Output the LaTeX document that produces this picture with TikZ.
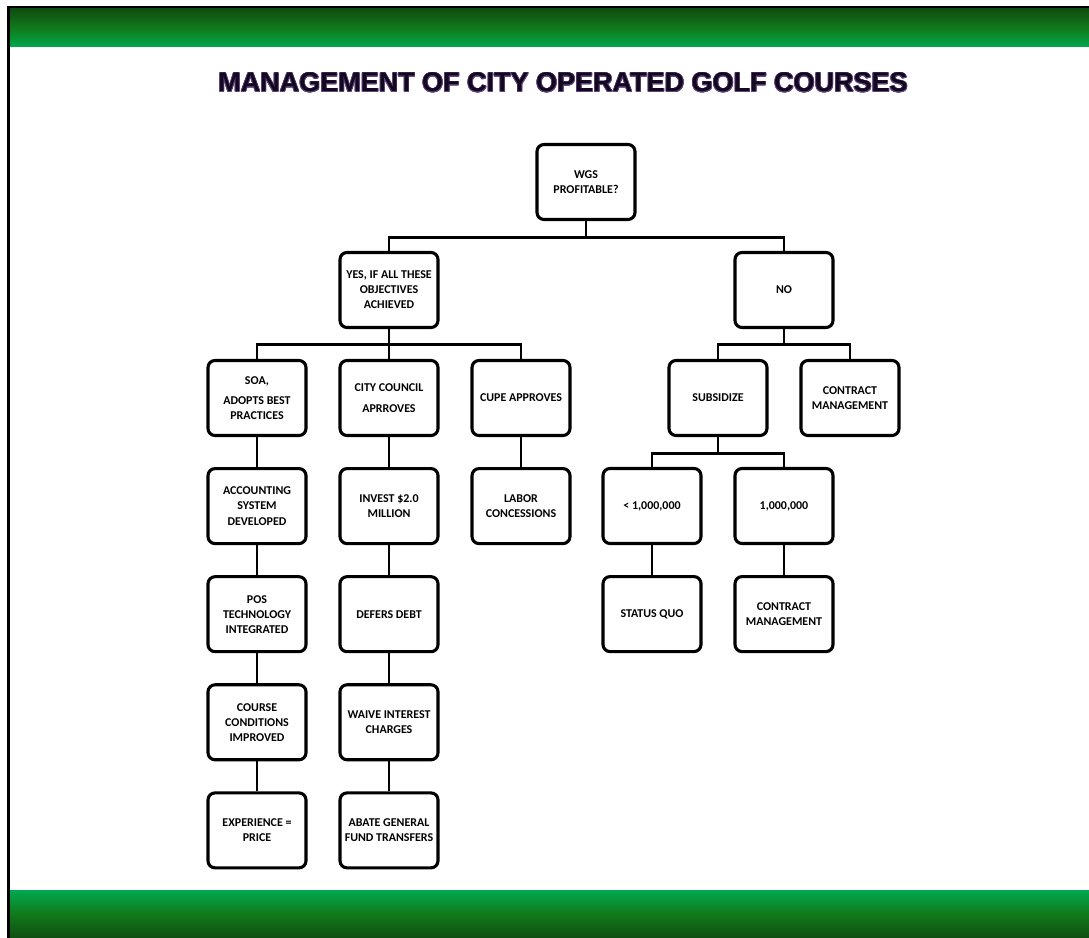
\documentclass[tikz,border=0pt]{standalone}
\usepackage{fontspec}
\setmainfont{Carlito}
\newfontfamily\titlefont{Liberation Sans}
\usepackage{xcolor}
\usepackage{contour}
\contourlength{0.5pt}
\definecolor{BarDark}{HTML}{0F4E12}
\definecolor{BarMid}{HTML}{117A1B}
\definecolor{BarLight}{HTML}{00A94F}
\definecolor{TitleInk}{HTML}{14081F}
\definecolor{TitleEdge}{HTML}{5E4780}
\usetikzlibrary{positioning}

\begin{document}
\begin{tikzpicture}[
  node distance=0.75cm,
  box/.style={rectangle, rounded corners=5pt, draw=black, line width=2.2pt, fill=white, minimum width=2.45cm, minimum height=1.875cm, align=center, font=\bfseries\fontsize{8.5}{10.7}\selectfont},
  link/.style={black, line width=2.1pt},
  bar/.style={draw=none}
]
  \useasboundingbox (0,0) rectangle (27.225,-23.45);
  % slide frame and green bars
  \fill[black] (0.175,-0.15) rectangle (27.225,-23.45);
  \fill[white] (0.25,-0.225) rectangle (27.225,-23.45);
  \shade[bar, top color=BarDark, bottom color=BarLight, middle color=BarMid] (0.25,-0.225) rectangle (27.225,-1.175);
  \shade[bar, top color=BarLight, bottom color=BarDark, middle color=BarMid] (0.25,-22.25) rectangle (27.225,-23.45);

  \node[font=\titlefont\bfseries\fontsize{19.2}{22}\selectfont, text=TitleInk] (title) at (14.075,-2.07) {\contour{TitleEdge}{MANAGEMENT OF CITY OPERATED GOLF COURSES}};

  \node[box] (wgs) at (14.65,-4.55) {WGS\\PROFITABLE?};
  \node[box] (yes) at (9.725,-7.25) {YES, IF ALL THESE\\OBJECTIVES\\ACHIEVED};
  \node[box] (no) at (19.6,-7.25) {NO};

  % yes branch
  \node[box] (soa) at (6.425,-9.95) {SOA,\\[4pt]ADOPTS BEST\\PRACTICES};
  \node[box, below=of soa] (acct) {ACCOUNTING\\SYSTEM\\DEVELOPED};
  \node[box, below=of acct] (pos) {POS\\TECHNOLOGY\\INTEGRATED};
  \node[box, below=of pos] (cond) {COURSE\\CONDITIONS\\IMPROVED};
  \node[box, below=of cond] (exper) {EXPERIENCE =\\PRICE};

  \node[box] (council) at (9.725,-9.95) {CITY COUNCIL\\[4.5pt]APRROVES};
  \node[box, below=of council] (invest) {INVEST \$2.0\\MILLION};
  \node[box, below=of invest] (defer) {DEFERS DEBT};
  \node[box, below=of defer] (waive) {WAIVE INTEREST\\CHARGES};
  \node[box, below=of waive] (abate) {ABATE GENERAL\\FUND TRANSFERS};

  \node[box] (cupe) at (13.025,-9.95) {CUPE APPROVES};
  \node[box, below=of cupe] (labor) {LABOR\\CONCESSIONS};

  % no branch
  \node[box] (subsid) at (17.95,-9.95) {SUBSIDIZE};
  \node[box] (contr) at (21.25,-9.95) {CONTRACT\\MANAGEMENT};
  \node[box] (lowsub) at (16.3,-12.65) {< 1,000,000};
  \node[box] (highsub) at (19.6,-12.65) {1,000,000};
  \node[box, below=of lowsub] (quo) {STATUS QUO};
  \node[box, below=of highsub] (contrb) {CONTRACT\\MANAGEMENT};

  % tree lines
  \draw[link] (wgs.south) -- ++(0,-0.4) -| (yes.north);
  \draw[link] (wgs.south) -- ++(0,-0.4) -| (no.north);
  \draw[link] (yes.south) -- ++(0,-0.375) -| (soa.north);
  \draw[link] (yes.south) -- (council.north);
  \draw[link] (yes.south) -- ++(0,-0.375) -| (cupe.north);
  \draw[link] (no.south) -- ++(0,-0.375) -| (subsid.north);
  \draw[link] (no.south) -- ++(0,-0.375) -| (contr.north);
  \draw[link] (subsid.south) -- ++(0,-0.4) -| (lowsub.north);
  \draw[link] (subsid.south) -- ++(0,-0.4) -| (highsub.north);

  \draw[link] (soa) -- (acct);
  \draw[link] (acct) -- (pos);
  \draw[link] (pos) -- (cond);
  \draw[link] (cond) -- (exper);
  \draw[link] (council) -- (invest);
  \draw[link] (invest) -- (defer);
  \draw[link] (defer) -- (waive);
  \draw[link] (waive) -- (abate);
  \draw[link] (cupe) -- (labor);
  \draw[link] (lowsub) -- (quo);
  \draw[link] (highsub) -- (contrb);
\end{tikzpicture}
\end{document}
